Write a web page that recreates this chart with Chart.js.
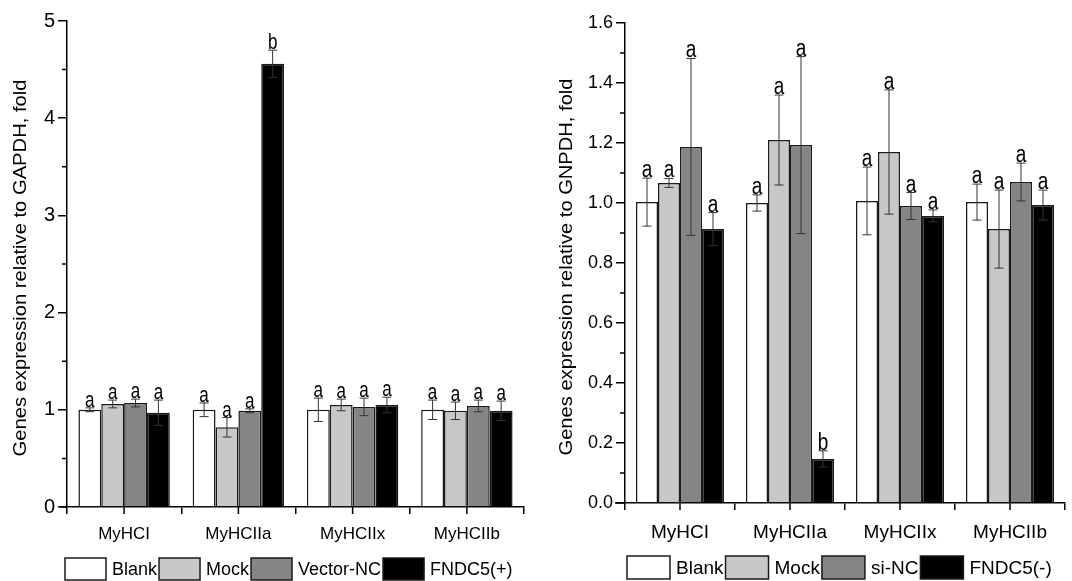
<!DOCTYPE html>
<html>
<head>
<meta charset="utf-8">
<script src="https://cdn.jsdelivr.net/npm/chart.js@4"></script>
<style>
    html, body { margin: 0; padding: 0; background: #fff; }
    #wrap { position: relative; width: 1072px; height: 581px; overflow: hidden; }
    #canvas-left { position: absolute; left: 0; top: 0; }
    #canvas-right { position: absolute; left: 545px; top: 0; }
</style>
</head>
<body>
<div id="wrap">
    <canvas id="canvas-left" width="545" height="581"></canvas>
    <canvas id="canvas-right" width="527" height="581"></canvas>
</div>
<script>
const categories = ['MyHCI', 'MyHCIIa', 'MyHCIIx', 'MyHCIIb'];
const seriesColors = ['#ffffff', '#c8c8c8', '#858585', '#000000'];

// left panel: overexpression
const leftSeries = ['Blank', 'Mock', 'Vector-NC', 'FNDC5(+)'];
const leftBlank = [1.00, 1.00, 1.00, 1.00];
const leftMock = [1.06, 0.82, 1.05, 0.99];
const leftVectorNC = [1.07, 0.99, 1.03, 1.04];
const leftFNDC5 = [0.97, 4.56, 1.05, 0.99];
const leftBlankErr = [0.02, 0.07, 0.12, 0.10];
const leftMockErr = [0.04, 0.10, 0.06, 0.09];
const leftVectorNCErr = [0.04, 0.02, 0.09, 0.06];
const leftFNDC5Err = [0.13, 0.14, 0.08, 0.10];
const leftFNDC5Letters = ['a', 'b', 'a', 'a'];
const leftYTicks = [0, 1, 2, 3, 4, 5];

// right panel: knockdown
const rightSeries = ['Blank', 'Mock', 'si-NC', 'FNDC5(-)'];
const rightBlank = [1.003, 1.000, 1.007, 1.003];
const rightMock = [1.067, 1.210, 1.170, 0.913];
const rightSiNC = [1.187, 1.193, 0.990, 1.070];
const rightFNDC5 = [0.913, 0.147, 0.957, 0.993];
const rightBlankErr = [0.080, 0.027, 0.113, 0.060];
const rightMockErr = [0.015, 0.150, 0.207, 0.130];
const rightSiNCErr = [0.295, 0.295, 0.045, 0.063];
const rightFNDC5Err = [0.055, 0.027, 0.020, 0.050];
const rightFNDC5Letters = ['a', 'b', 'a', 'a'];
const rightYTicks = [0, 0.2, 0.4, 0.6, 0.8, 1.0, 1.2, 1.4, 1.6];

const allA = ['a', 'a', 'a', 'a'];
const FONT = "'Liberation Sans', Arial, sans-serif";
Chart.defaults.font.family = FONT;
Chart.defaults.color = '#000';

function makeDatasets(names, values, errors, letters) {
    return names.map((name, i) => ({
        label: name,
        data: values[i],
        errors: errors[i],
        letters: letters[i],
        backgroundColor: seriesColors[i],
        borderColor: '#1a1a1a',
        borderWidth: 1.5,
        borderSkipped: 'bottom',
        categoryPercentage: 0.8,
        barPercentage: 1.0,
    }));
}

const decorPlugin = {
    id: 'decor',
    afterDatasetsDraw(chart) {
        const ctx = chart.ctx;
        const yScale = chart.scales.y;
        const o = chart.options.plugins.decor;
        // error bars
        ctx.save();
        ctx.strokeStyle = '#333';
        ctx.lineWidth = 1;
        chart.data.datasets.forEach((ds, i) => {
            const meta = chart.getDatasetMeta(i);
            meta.data.forEach((bar, j) => {
                const v = ds.data[j];
                const e = ds.errors[j];
                const yTop = yScale.getPixelForValue(v + e);
                const yBot = yScale.getPixelForValue(v - e);
                ctx.beginPath();
                ctx.moveTo(bar.x, yTop);
                ctx.lineTo(bar.x, yBot);
                ctx.moveTo(bar.x - 4.5, yTop);
                ctx.lineTo(bar.x + 4.5, yTop);
                ctx.moveTo(bar.x - 4.5, yBot);
                ctx.lineTo(bar.x + 4.5, yBot);
                ctx.stroke();
                // significance letters (tall, like the original)
                ctx.save();
                ctx.fillStyle = '#000';
                ctx.font = `${o.letterSize}px ${FONT}`;
                ctx.textAlign = 'center';
                ctx.textBaseline = 'alphabetic';
                ctx.translate(bar.x, yTop - 1);
                ctx.scale(1, 1.3);
                ctx.fillText(ds.letters[j], 0, 0);
                ctx.restore();
            });
        });
        ctx.restore();
    },
    afterDraw(chart) {
        const ctx = chart.ctx;
        const area = chart.chartArea;
        const xScale = chart.scales.x;
        const yScale = chart.scales.y;
        const o = chart.options.plugins.decor;
        ctx.save();
        ctx.strokeStyle = '#000';
        ctx.lineWidth = 1.5;
        ctx.beginPath();
        // minor ticks on y
        for (let k = 0; k < o.yTicks.length - 1; k++) {
            const y = yScale.getPixelForValue((o.yTicks[k] + o.yTicks[k + 1]) / 2);
            ctx.moveTo(area.left, y);
            ctx.lineTo(area.left - 5, y);
        }
        // centre ticks on x
        categories.forEach((c, k) => {
            const x = xScale.getPixelForValue(k);
            ctx.moveTo(x, area.bottom);
            ctx.lineTo(x, area.bottom + 7);
        });
        // x axis runs a little past the y axis
        ctx.moveTo(area.left - o.axisOverhang, area.bottom);
        ctx.lineTo(area.left, area.bottom);
        ctx.stroke();

        // y title, stretched along its length like the original
        ctx.fillStyle = '#000';
        ctx.font = `${o.titleSize}px ${FONT}`;
        ctx.textAlign = 'center';
        ctx.textBaseline = 'middle';
        const w = ctx.measureText(o.yTitle).width;
        ctx.translate(o.titleX, (area.top + area.bottom) / 2 + 4);
        ctx.rotate(-Math.PI / 2);
        ctx.scale(o.titleLength / w, 1);
        ctx.fillText(o.yTitle, 0, 0);
        ctx.restore();

        // legend
        ctx.save();
        ctx.font = `${o.legendSize}px ${FONT}`;
        ctx.textBaseline = 'middle';
        ctx.textAlign = 'left';
        let x = o.legendX;
        chart.data.datasets.forEach((ds) => {
            ctx.fillStyle = ds.backgroundColor;
            ctx.fillRect(x, o.legendY, o.boxW, o.boxH);
            ctx.strokeStyle = '#1a1a1a';
            ctx.lineWidth = 1.5;
            ctx.strokeRect(x, o.legendY, o.boxW, o.boxH);
            x += o.boxW + 6;
            ctx.fillStyle = '#000';
            ctx.fillText(ds.label, x, o.legendY + o.boxH / 2 + 1);
            x += ctx.measureText(ds.label).width + 2;
        });
        ctx.restore();
    }
};

function createChart(canvas, datasets, p) {
    return new Chart(canvas.getContext('2d'), {
        type: 'bar',
        data: { labels: categories, datasets },
        plugins: [decorPlugin],
        options: {
            responsive: false,
            animation: false,
            layout: { padding: { top: p.top, right: p.right, left: 0, bottom: 0 } },
            scales: {
                x: {
                    offset: true,
                    grid: { offset: true, drawOnChartArea: false, color: '#000', lineWidth: 1.5, tickLength: 7 },
                    border: { color: '#000', width: 1.5 },
                    ticks: { font: { size: p.xFont }, color: '#000', padding: p.xPad, maxRotation: 0 },
                    afterFit: (scale) => { scale.height = p.xHeight; },
                },
                y: {
                    min: 0,
                    max: p.yMax,
                    afterBuildTicks: (scale) => { scale.ticks = p.yTicks.map(v => ({ value: v })); },
                    grid: { drawOnChartArea: false, color: '#000', lineWidth: 1.5, tickLength: 9 },
                    border: { color: '#000', width: 1.5 },
                    ticks: {
                        font: { size: p.yFont },
                        color: '#000',
                        padding: 3,
                        callback: (v) => v.toFixed(p.decimals),
                    },
                    afterFit: (scale) => { scale.width = p.yWidth; },
                },
            },
            plugins: {
                legend: { display: false },
                tooltip: { enabled: false },
                decor: {
                    yTicks: p.yTicks,
                    yTitle: p.yTitle,
                    titleX: p.titleX,
                    titleSize: 18,
                    titleLength: 377,
                    letterSize: p.letterSize,
                    legendSize: p.legendSize,
                    legendX: p.legendX,
                    legendY: p.legendY,
                    boxW: p.boxW,
                    boxH: p.boxH,
                    axisOverhang: p.overhang,
                },
            },
        },
    });
}

const leftChart = createChart(
    document.getElementById('canvas-left'),
    makeDatasets(leftSeries,
        [leftBlank, leftMock, leftVectorNC, leftFNDC5],
        [leftBlankErr, leftMockErr, leftVectorNCErr, leftFNDC5Err],
        [allA, allA, allA, leftFNDC5Letters]),
    {
        top: 21, right: 21, xHeight: 74, yWidth: 67, yMax: 5, yTicks: leftYTicks, decimals: 0,
        xFont: 17, xPad: 10, yFont: 20, letterSize: 17,
        yTitle: 'Genes expression relative to GAPDH, fold', titleX: 21,
        legendSize: 18, legendX: 65, legendY: 558, boxW: 41, boxH: 22, overhang: 7,
    }
);

const rightChart = createChart(
    document.getElementById('canvas-right'),
    makeDatasets(rightSeries,
        [rightBlank, rightMock, rightSiNC, rightFNDC5],
        [rightBlankErr, rightMockErr, rightSiNCErr, rightFNDC5Err],
        [allA, allA, allA, rightFNDC5Letters]),
    {
        top: 23, right: 7, xHeight: 78, yWidth: 80, yMax: 1.6, yTicks: rightYTicks, decimals: 1,
        xFont: 19, xPad: 11, yFont: 18, letterSize: 19,
        yTitle: 'Genes expression relative to GNPDH, fold', titleX: 22,
        legendSize: 19, legendX: 82, legendY: 556, boxW: 43, boxH: 23, overhang: 10,
    }
);
</script>
</body>
</html>
